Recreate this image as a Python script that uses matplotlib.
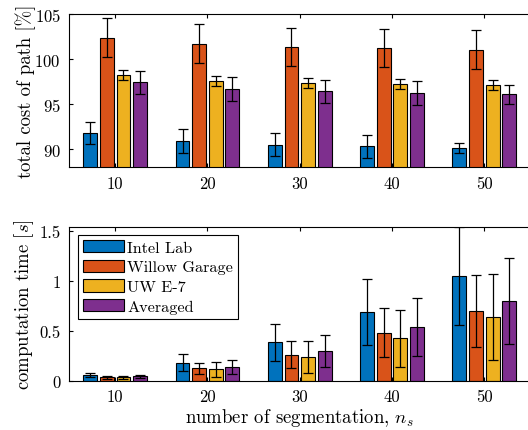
import numpy as np
import matplotlib
matplotlib.use('Agg')
import matplotlib.pyplot as plt

plt.rcParams['font.family'] = 'cmr10'
plt.rcParams['mathtext.fontset'] = 'cm'
plt.rcParams['axes.formatter.use_mathtext'] = True

segments = ['10', '20', '30', '40', '50']
datasets = ['Intel Lab', 'Willow Garage', 'UW E-7', 'Averaged']
colors = ['#0072BD', '#D95319', '#EDB120', '#7E2F8E']

# total cost of path [%], rows = datasets, columns = segments
cost_mean = [
    [91.8, 90.9, 90.5, 90.3, 90.1],
    [102.35, 101.7, 101.35, 101.2, 101.05],
    [98.2, 97.56, 97.33, 97.22, 97.1],
    [97.4, 96.7, 96.4, 96.2, 96.07],
]
cost_err = [
    [1.2, 1.28, 1.26, 1.26, 0.55],
    [2.17, 2.15, 2.13, 2.1, 2.13],
    [0.55, 0.6, 0.55, 0.55, 0.57],
    [1.33, 1.33, 1.32, 1.33, 1.1],
]

# computation time [s]
time_mean = [
    [0.055, 0.18, 0.386, 0.69, 1.054],
    [0.037, 0.124, 0.262, 0.48, 0.70],
    [0.034, 0.114, 0.238, 0.426, 0.638],
    [0.044, 0.138, 0.295, 0.537, 0.80],
]
time_err = [
    [0.022, 0.085, 0.188, 0.335, 0.49],
    [0.015, 0.057, 0.133, 0.245, 0.364],
    [0.018, 0.072, 0.16, 0.287, 0.435],
    [0.017, 0.074, 0.16, 0.289, 0.43],
]

offsets = [-0.27, -0.09, 0.09, 0.27]
width = 0.15
x = np.arange(1, len(segments) + 1)

fig = plt.figure(figsize=(5.28, 4.31), dpi=100)
ax1 = fig.add_axes([0.1307, 0.610, 0.874, 0.355])
ax2 = fig.add_axes([0.1307, 0.1144, 0.874, 0.356])


def draw(ax, means, errs):
    for i in range(len(datasets)):
        ax.bar(x + offsets[i], means[i], width, color=colors[i],
               edgecolor='black', linewidth=0.8, label=datasets[i], zorder=2)
        ax.errorbar(x + offsets[i], means[i], yerr=errs[i], fmt='none',
                    ecolor='black', elinewidth=0.9, capsize=3.5, capthick=0.9, zorder=3)
    ax.set_xlim(0.5, 5.5)
    ax.set_xticks(x)
    ax.set_xticklabels(segments)
    ax.tick_params(direction='in', top=True, right=False, labelsize=12, length=3, pad=6)
    ax.spines['right'].set_visible(False)
    for s in ax.spines.values():
        s.set_linewidth(0.8)


draw(ax1, cost_mean, cost_err)
ax1.set_ylim(88, 105)
ax1.set_yticks([90, 95, 100, 105])
ax1.set_ylabel('total cost of path [%]', fontsize=13.5)
ax1.yaxis.set_label_coords(-0.072, 0.5)

draw(ax2, time_mean, time_err)
ax2.set_ylim(0, 1.54)
ax2.set_yticks([0, 0.5, 1, 1.5])
ax2.set_yticklabels(['0', '0.5', '1', '1.5'])
ax2.set_ylabel('computation time [$s$]', fontsize=13.5)
ax2.yaxis.set_label_coords(-0.072, 0.5)
ax2.set_xlabel('number of segmentation, $n_s$', fontsize=13.5, labelpad=1)

leg = ax2.legend(loc='upper left', bbox_to_anchor=(0.02, 0.95), fontsize=11.7,
                 handlelength=2.5, handleheight=0.8, handletextpad=0.2,
                 labelspacing=0.3, borderpad=0.3, borderaxespad=0,
                 fancybox=False, framealpha=1, edgecolor='black')
leg.get_frame().set_linewidth(0.8)

fig.savefig('out.png', dpi=100)
